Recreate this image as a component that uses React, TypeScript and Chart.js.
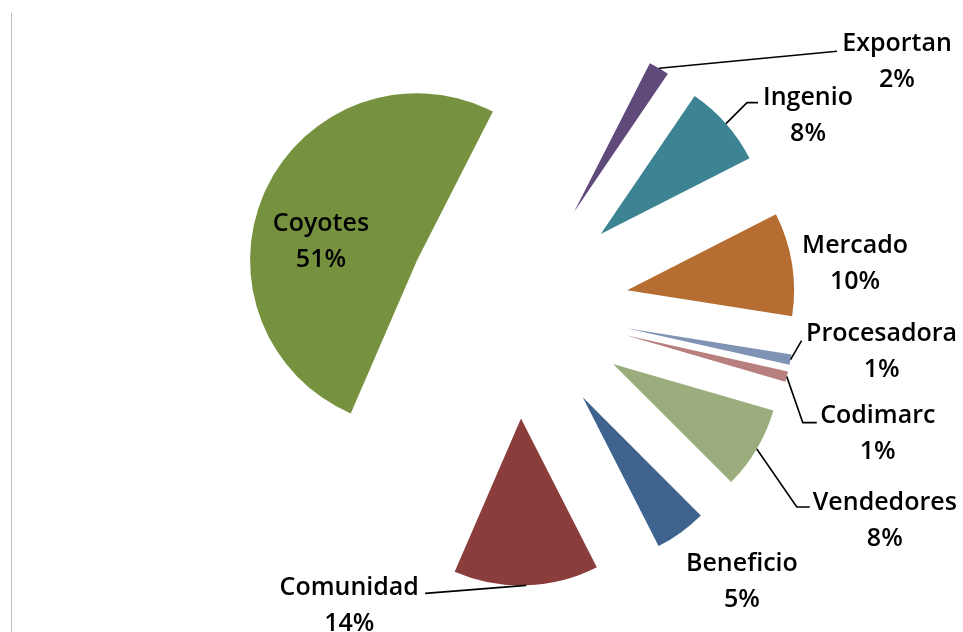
import React, { useEffect, useRef } from 'react';
import { Chart, registerables } from 'chart.js';

Chart.register(...registerables);

// ---- data ----
const categories = ['Exportan', 'Ingenio', 'Mercado', 'Procesadora', 'Codimarc', 'Vendedores', 'Beneficio', 'Comunidad', 'Coyotes'];
const shares = [2, 8, 10, 1, 1, 8, 5, 14, 51];
const sliceColors = ['#604A7B', '#3C8393', '#B66D31', '#7F93B5', '#B77F7E', '#9BAD7C', '#3E638E', '#8B3D3B', '#77923F'];

// ---- layout ----
const RADIUS = 167;
const EXPLODE = 111; // px every slice is pulled out from the centre
const ROTATION = 27;
const FONT = '600 25px "Open Sans"';
const LINE_GAP = 36;

// label block centre relative to slice's outer mid point; leader points relative to block centre
const labelLayout: { dx: number; dy: number; leader: number[][] }[] = [
  { dx: 238, dy: -6, leader: [[-60, -11]] },
  { dx: 82, dy: -8, leader: [[-61, -13], [-50, -13]] },
  { dx: 63, dy: 0, leader: [] },
  { dx: 91, dy: -8, leader: [[-80, -11]] },
  { dx: 91, dy: 57, leader: [[-75, -11], [-61, -11]] },
  { dx: 128, dy: 72, leader: [[-88, -14], [-75, -14]] },
  { dx: 61, dy: 49, leader: [] },
  { dx: -177, dy: 21, leader: [[76, -13]] },
  { dx: 55, dy: 53, leader: [] },
];

// pull every slice straight out along its mid angle, keeping radius and angles intact
const explodePlugin = {
  id: 'explodeSlices',
  afterDatasetUpdate(chart: any, args: any) {
    const area = chart.chartArea;
    const bx = (area.left + area.right) / 2;
    const by = (area.top + area.bottom) / 2;
    args.meta.data.forEach((arc: any) => {
      const mid = (arc.startAngle + arc.endAngle) / 2;
      arc.x = bx + Math.cos(mid) * EXPLODE;
      arc.y = by + Math.sin(mid) * EXPLODE;
    });
  },
};

const labelPlugin = {
  id: 'sliceLabels',
  afterDatasetsDraw(chart: any) {
    const ctx: CanvasRenderingContext2D = chart.ctx;
    const meta = chart.getDatasetMeta(0);
    const data: number[] = chart.data.datasets[0].data;
    const total = data.reduce((a, b) => a + b, 0);
    ctx.save();
    ctx.font = FONT;
    ctx.textAlign = 'center';
    ctx.textBaseline = 'middle';
    meta.data.forEach((arc: any, i: number) => {
      const mid = (arc.startAngle + arc.endAngle) / 2;
      const ax = arc.x + Math.cos(mid) * arc.outerRadius;
      const ay = arc.y + Math.sin(mid) * arc.outerRadius;
      const lay = labelLayout[i];
      const cx = ax + lay.dx;
      const cy = ay + lay.dy;
      if (lay.leader.length) {
        ctx.beginPath();
        ctx.strokeStyle = '#000';
        ctx.lineWidth = 1.6;
        ctx.moveTo(ax, ay);
        lay.leader.forEach((p) => ctx.lineTo(cx + p[0], cy + p[1]));
        ctx.stroke();
      }
      ctx.fillStyle = '#000';
      ctx.fillText(String(chart.data.labels[i]), cx, cy - LINE_GAP / 2);
      ctx.fillText(Math.round((data[i] / total) * 100) + '%', cx, cy + LINE_GAP / 2);
    });
    ctx.restore();
  },
};

export default function App() {
  const ref = useRef<HTMLCanvasElement>(null);
  useEffect(() => {
    if (!ref.current) return;
    const chart = new Chart(ref.current, {
      type: 'pie',
      data: {
        labels: categories,
        datasets: [
          {
            data: shares,
            backgroundColor: sliceColors,
            borderWidth: 0,
          } as any,
        ],
      },
      options: {
        animation: false,
        responsive: false,
        events: [],
        rotation: ROTATION,
        radius: RADIUS,
        layout: { padding: { left: 72, right: 0, top: 0, bottom: 17 } },
        plugins: { legend: { display: false }, tooltip: { enabled: false } },
      } as any,
      plugins: [explodePlugin, labelPlugin],
    });
    return () => chart.destroy();
  }, []);
  return (
    <div style={{ position: 'absolute', left: 0, top: 0, width: 963, height: 632, background: '#fff', overflow: 'hidden' }}>
      <div style={{ position: 'absolute', left: 11, top: 13, width: 0, height: 619, borderLeft: '1px solid #bfbfbf' }} />
      <canvas ref={ref} width={963} height={632} style={{ position: 'absolute', left: 0, top: 0, width: 963, height: 632 }} />
    </div>
  );
}
